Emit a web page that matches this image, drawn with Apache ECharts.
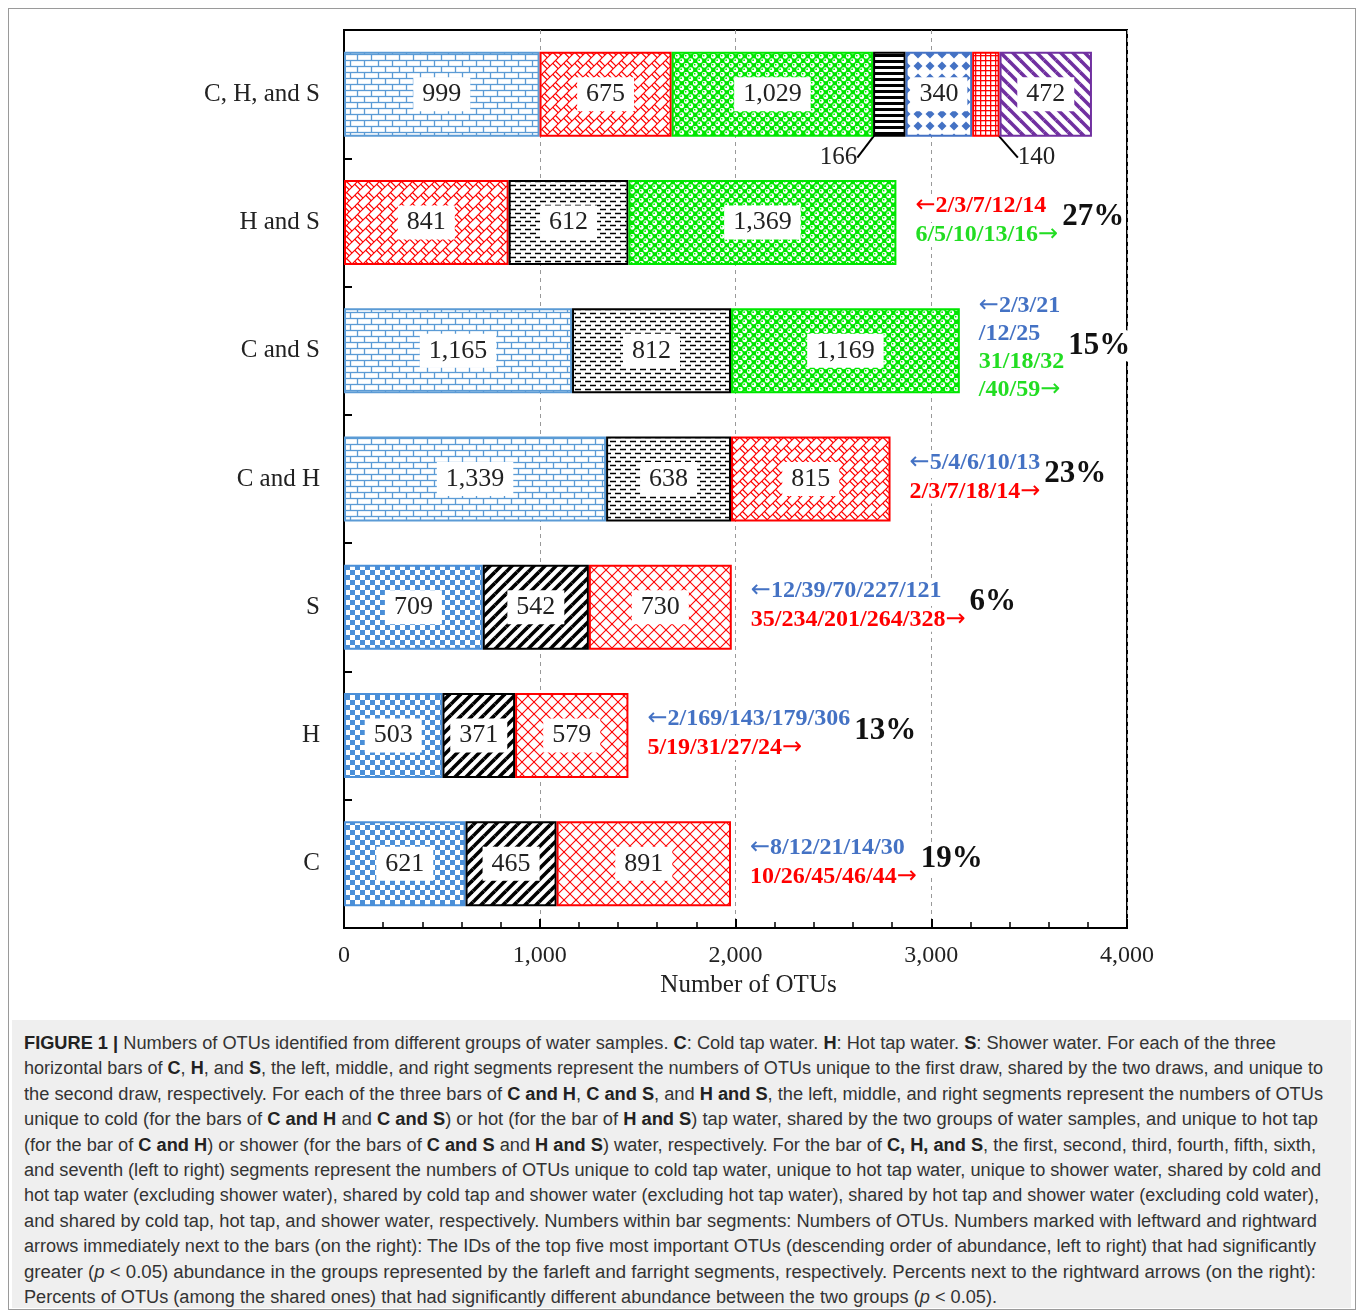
<!DOCTYPE html>
<html>
<head>
<meta charset="utf-8">
<script src="https://cdn.jsdelivr.net/npm/echarts@6/dist/echarts.min.js"></script>
<style>
  html, body { margin: 0; padding: 0; background: #fff; }
  #frame { position: absolute; left: 8px; top: 8px; width: 1346px; height: 1300px; border: 1px solid #9a9a9a; }
  #chart { position: absolute; left: 0; top: 0; width: 1358px; height: 1015px; }
  #caption { position: absolute; left: 12px; top: 1020px; width: 1339px; height: 288px; background: #efefef; }
  .ln { position: absolute; left: 12px; white-space: nowrap; font-family: "Liberation Sans", Arial, sans-serif;
        font-size: 18px; color: #333; transform-origin: 0 50%; line-height: 20px; }
  .ln b { color: #222; }
</style>
</head>
<body>
<div id="frame"></div>
<div id="chart"></div>
<div id="caption"></div>
<script>
// categories, bottom to top
var categories = ['C', 'H', 'S', 'C and H', 'C and S', 'H and S', 'C, H, and S'];
// segment values, left to right
var seg1 = [621, 503, 709, 1339, 1165, 841, 999];
var seg2 = [465, 371, 542, 638, 812, 612, 675];
var seg3 = [891, 579, 730, 815, 1169, 1369, 1029];
var seg4 = ['-', '-', '-', '-', '-', '-', 166];
var seg5 = ['-', '-', '-', '-', '-', '-', 340];
var seg6 = ['-', '-', '-', '-', '-', '-', 140];
var seg7 = ['-', '-', '-', '-', '-', '-', 472];

var xTicks = [0, 1000, 2000, 3000, 4000];

// notes right of the bars
var noteCats = ['C', 'H', 'S', 'C and H', 'C and S', 'H and S'];
var leftIds = ['8/12/21/14/30', '2/169/143/179/306', '12/39/70/227/121', '5/4/6/10/13', '2/3/21/12/25', '2/3/7/12/14'];
var rightIds = ['10/26/45/46/44', '5/19/31/27/24', '35/234/201/264/328', '2/3/7/18/14', '31/18/32/40/59', '6/5/10/13/16'];
var pcts = ['19%', '13%', '6%', '23%', '15%', '27%'];

var captionLines = [
  '<b>FIGURE 1 |</b> Numbers of OTUs identified from different groups of water samples. <b>C</b>: Cold tap water. <b>H</b>: Hot tap water. <b>S</b>: Shower water. For each of the three',
  'horizontal bars of <b>C</b>, <b>H</b>, and <b>S</b>, the left, middle, and right segments represent the numbers of OTUs unique to the first draw, shared by the two draws, and unique to',
  'the second draw, respectively. For each of the three bars of <b>C and H</b>, <b>C and S</b>, and <b>H and S</b>, the left, middle, and right segments represent the numbers of OTUs',
  'unique to cold (for the bars of <b>C and H</b> and <b>C and S</b>) or hot (for the bar of <b>H and S</b>) tap water, shared by the two groups of water samples, and unique to hot tap',
  '(for the bar of <b>C and H</b>) or shower (for the bars of <b>C and S</b> and <b>H and S</b>) water, respectively. For the bar of <b>C, H, and S</b>, the first, second, third, fourth, fifth, sixth,',
  'and seventh (left to right) segments represent the numbers of OTUs unique to cold tap water, unique to hot tap water, unique to shower water, shared by cold and',
  'hot tap water (excluding shower water), shared by cold tap and shower water (excluding hot tap water), shared by hot tap and shower water (excluding cold water),',
  'and shared by cold tap, hot tap, and shower water, respectively. Numbers within bar segments: Numbers of OTUs. Numbers marked with leftward and rightward',
  'arrows immediately next to the bars (on the right): The IDs of the top five most important OTUs (descending order of abundance, left to right) that had significantly',
  'greater (<i>p</i> &lt; 0.05) abundance in the groups represented by the farleft and farright segments, respectively. Percents next to the rightward arrows (on the right):',
  'Percents of OTUs (among the shared ones) that had significantly different abundance between the two groups (<i>p</i> &lt; 0.05).'
];
var lineEnds = [1276, 1323, 1323, 1318, 1316, 1321, 1319, 1317, 1316, 1316, 997];

// ---------- patterns ----------
function tile(w, h, bg, draw) {
  var c = document.createElement('canvas');
  c.width = w; c.height = h;
  var ctx = c.getContext('2d');
  ctx.fillStyle = bg;
  ctx.fillRect(0, 0, w, h);
  draw(ctx, w, h);
  return { image: c, repeat: 'repeat' };
}
function wrapLine(ctx, w, h, x1, y1, x2, y2) {
  for (var i = -1; i <= 1; i++) {
    for (var j = -1; j <= 1; j++) {
      ctx.beginPath();
      ctx.moveTo(x1 + i * w, y1 + j * h);
      ctx.lineTo(x2 + i * w, y2 + j * h);
      ctx.stroke();
    }
  }
}
var BLUE = '#5b9bd5', RED = '#ff0000', GREEN = '#00e600', BLACK = '#000', PURPLE = '#7030a0';

var pats = {
  brickBlue: { border: BLUE, fill: tile(14, 12, '#fff', function (c, w, h) {
    c.strokeStyle = BLUE; c.lineWidth = 1.3;
    wrapLine(c, w, h, 0, 0.5, w, 0.5);
    wrapLine(c, w, h, 0, 6.5, w, 6.5);
    wrapLine(c, w, h, 0.5, 0, 0.5, 6.5);
    wrapLine(c, w, h, 7.5, 6.5, 7.5, 12);
  }) },
  diagBrickRed: { border: RED, fill: tile(11, 11, '#fff', function (c, w, h) {
    c.strokeStyle = RED; c.lineWidth = 1.2;
    wrapLine(c, w, h, 0, 11, 11, 0);
    wrapLine(c, w, h, 5.5, 5.5, 11, 11);
    wrapLine(c, w, h, 2.75, -2.75, 8.25, 2.75);
  }) },
  sphereGreen: { border: GREEN, fill: tile(9, 9, GREEN, function (c, w, h) {
    var pts = [[2.25, 2.25], [6.75, 6.75], [-2.25, 6.75], [6.75, -2.25], [11.25, 6.75], [6.75, 11.25]];
    pts.forEach(function (p) {
      c.fillStyle = '#fff';
      c.beginPath(); c.arc(p[0], p[1], 2.4, 0, Math.PI * 2); c.fill();
      c.fillStyle = GREEN;
      c.beginPath(); c.arc(p[0] - 0.6, p[1] - 0.6, 0.9, 0, Math.PI * 2); c.fill();
    });
  }) },
  linesBlack: { border: BLACK, fill: tile(6, 6, '#fff', function (c) {
    c.fillStyle = BLACK; c.fillRect(0, 0, 6, 3);
  }) },
  diamondBlue: { border: '#4472c4', fill: tile(12, 12, '#fff', function (c) {
    c.fillStyle = '#4472c4';
    c.beginPath(); c.moveTo(6, 1.5); c.lineTo(10.5, 6); c.lineTo(6, 10.5); c.lineTo(1.5, 6); c.closePath(); c.fill();
  }) },
  gridRed: { border: RED, fill: tile(5, 5, '#fff', function (c) {
    c.fillStyle = RED; c.fillRect(0, 0, 5, 1.3); c.fillRect(0, 0, 1.3, 5);
  }) },
  stripePurple: { border: PURPLE, fill: tile(12, 12, '#fff', function (c, w, h) {
    c.strokeStyle = PURPLE; c.lineWidth = 3.6;
    wrapLine(c, w, h, 0, 0, 12, 12);
  }) },
  dashBlack: { border: BLACK, fill: tile(10, 8, '#fff', function (c, w, h) {
    c.strokeStyle = BLACK; c.lineWidth = 1.5;
    wrapLine(c, w, h, 0, 1.5, 6, 1.5);
    wrapLine(c, w, h, 5, 5.5, 11, 5.5);
  }) },
  checkBlue: { border: '#4a8fd8', fill: tile(10, 10, '#fff', function (c) {
    c.fillStyle = '#4a8fd8'; c.fillRect(0, 0, 5, 5); c.fillRect(5, 5, 5, 5);
  }) },
  stripeBlack: { border: BLACK, fill: tile(11, 11, '#fff', function (c, w, h) {
    c.strokeStyle = BLACK; c.lineWidth = 3.6;
    wrapLine(c, w, h, 0, 11, 11, 0);
  }) },
  crossRed: { border: RED, fill: tile(12, 12, '#fff', function (c, w, h) {
    c.strokeStyle = RED; c.lineWidth = 1.1;
    wrapLine(c, w, h, 0, 0, 12, 12);
    wrapLine(c, w, h, 0, 12, 12, 0);
  }) }
};

// which pattern goes in which segment (by category)
var fills = [
  ['checkBlue', 'stripeBlack', 'crossRed'],
  ['checkBlue', 'stripeBlack', 'crossRed'],
  ['checkBlue', 'stripeBlack', 'crossRed'],
  ['brickBlue', 'dashBlack', 'diagBrickRed'],
  ['brickBlue', 'dashBlack', 'sphereGreen'],
  ['diagBrickRed', 'dashBlack', 'sphereGreen'],
  ['brickBlue', 'diagBrickRed', 'sphereGreen', 'linesBlack', 'diamondBlue', 'gridRed', 'stripePurple']
];
var noteColors = [
  ['#4472c4', RED], ['#4472c4', RED], ['#4472c4', RED], ['#4472c4', RED],
  ['#4472c4', '#22dd22'], [RED, '#22dd22']
];
var noteWrap = [false, false, false, false, true, false];

var SERIF = '"Liberation Serif", "Times New Roman", serif';

function fmt(v) { return Number(v).toLocaleString('en-US'); }

function buildSeries(vals, k) {
  var s = {
    name: 'seg' + (k + 1),
    type: 'bar',
    stack: 'otu',
    barWidth: 85,
    data: vals.map(function (v, i) {
      if (v === '-') return '-';
      var p = pats[fills[i][k]];
      return { value: v, itemStyle: { color: p.fill, borderColor: p.border, borderWidth: 2 } };
    }),
    label: {
      show: true, position: 'inside',
      formatter: function (p) { return fmt(p.value); },
      fontFamily: SERIF, fontSize: 26, color: '#222',
      backgroundColor: '#fff', padding: [5, 9, 3, 9]
    }
  };
  if (k === 3 || k === 5) {
    var left = k === 3;
    s.label = {
      show: true, formatter: function (p) { return fmt(p.value); },
      fontFamily: SERIF, fontSize: 25, color: '#222'
    };
    s.labelLayout = function (p) {
      var r = p.rect;
      return {
        x: left ? r.x + r.width / 2 - 32 : r.x + r.width / 2 + 32,
        y: r.y + r.height + 21,
        align: left ? 'right' : 'left',
        verticalAlign: 'middle'
      };
    };
    s.labelLine = { show: true, lineStyle: { color: '#000', width: 2 } };
  }
  return s;
}

var chart = echarts.init(document.getElementById('chart'));
var option = {
  animation: false,
  backgroundColor: 'transparent',
  grid: { left: 344, right: 231, top: 30, bottom: 87, show: true, borderColor: '#000', borderWidth: 2 },
  xAxis: {
    type: 'value', min: xTicks[0], max: xTicks[xTicks.length - 1], interval: 1000,
    name: 'Number of OTUs', nameLocation: 'middle', nameGap: 44,
    nameTextStyle: { fontFamily: SERIF, fontSize: 25, color: '#222', padding: [0, 0, 0, 26] },
    axisLine: { show: true, lineStyle: { color: '#000', width: 2 } },
    axisTick: { show: true, inside: true, length: 9, lineStyle: { color: '#000', width: 2 } },
    minorTick: { show: true, splitNumber: 5, length: 6, lineStyle: { color: '#000', width: 1.5 } },
    splitLine: { show: true, lineStyle: { color: '#999', type: [4, 4], width: 1 } },
    axisLabel: { fontFamily: SERIF, fontSize: 24, color: '#222', margin: 16, formatter: fmt }
  },
  yAxis: {
    type: 'category', data: categories,
    axisLine: { show: true, lineStyle: { color: '#000', width: 2 } },
    axisTick: { show: true, inside: true, length: 8, lineStyle: { color: '#000', width: 2 } },
    axisLabel: { fontFamily: SERIF, fontSize: 25, color: '#222', margin: 24 }
  },
  series: [seg1, seg2, seg3, seg4, seg5, seg6, seg7].map(buildSeries)
};
chart.setOption(option);

// notes next to the bars
var mctx = document.createElement('canvas').getContext('2d');
function textW(t, font) { mctx.font = font; return mctx.measureText(t).width; }
var noteFont = 'bold 24px ' + SERIF;
var arrowFont = '24px "DejaVu Sans", sans-serif';
var pctFont = 'bold 31px ' + SERIF;
var ARL = '\u2190', ARR = '\u2192';
var graphics = [];
noteCats.forEach(function (cat, i) {
  var idx = categories.indexOf(cat);
  var end = seg1[idx] + seg2[idx] + seg3[idx];
  var pt = chart.convertToPixel({ gridIndex: 0 }, [end, idx]);
  var lines; // [text, colour, arrow before, arrow after]
  if (noteWrap[i]) {
    var a = leftIds[i].split('/'), b = rightIds[i].split('/');
    lines = [
      [a.slice(0, 3).join('/'), noteColors[i][0], true, false],
      ['/' + a.slice(3).join('/'), noteColors[i][0], false, false],
      [b.slice(0, 3).join('/'), noteColors[i][1], false, false],
      ['/' + b.slice(3).join('/'), noteColors[i][1], false, true]
    ];
  } else {
    lines = [
      [leftIds[i], noteColors[i][0], true, false],
      [rightIds[i], noteColors[i][1], false, true]
    ];
  }
  var step = noteWrap[i] ? 28 : 29;
  var x0 = pt[0] + 19;
  var yc = pt[1] - (noteWrap[i] ? 3 : 2);
  var maxW = 0;
  lines.forEach(function (l, j) {
    var y = yc + (j - (lines.length - 1) / 2) * step;
    var w = textW(l[0], noteFont) + (l[2] || l[3] ? textW(ARL, arrowFont) : 0);
    maxW = Math.max(maxW, w);
    var txt = (l[2] ? '{ar|' + ARL + '}' : '') + '{t|' + l[0] + '}' + (l[3] ? '{ar|' + ARR + '}' : '');
    graphics.push({
      type: 'text', x: x0, y: y, z: 100,
      style: {
        text: txt, fill: l[1], font: noteFont, textAlign: 'left', textVerticalAlign: 'middle',
        backgroundColor: '#fff',
        rich: {
          t: { font: noteFont, fill: l[1], color: l[1] },
          ar: { font: arrowFont, fill: l[1], color: l[1] }
        }
      }
    });
  });
  graphics.push({
    type: 'text', x: x0 + maxW + 4, y: pt[1] - 5, z: 100,
    style: { text: pcts[i], fill: '#111', font: pctFont, textAlign: 'left', textVerticalAlign: 'middle',
             backgroundColor: '#fff' }
  });
});
chart.setOption({ graphic: graphics });

// caption lines, each squeezed to its measured width
var cap = document.getElementById('caption');
captionLines.forEach(function (html, i) {
  var d = document.createElement('div');
  d.className = 'ln';
  d.style.top = (13 + i * 25.4) + 'px';
  d.innerHTML = html;
  cap.appendChild(d);
  var w = d.getBoundingClientRect().width;
  var target = lineEnds[i] - 24;
  d.style.transform = 'scaleX(' + (target / w) + ')';
});
</script>
</body>
</html>
